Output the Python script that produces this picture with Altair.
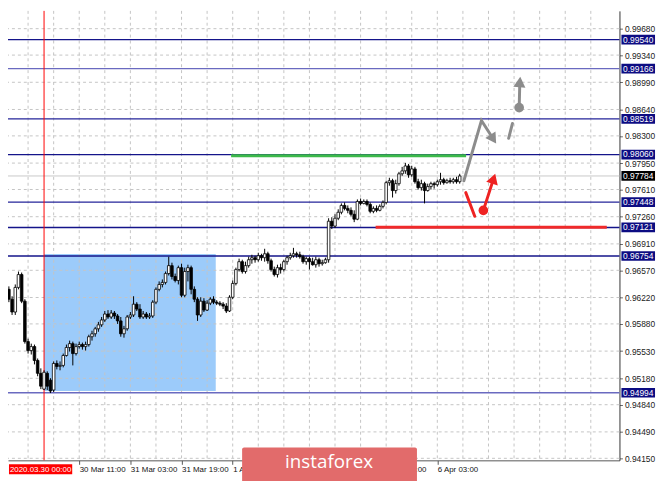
import altair as alt
import pandas as pd

# ---------------- data (H1 bars, bar 0 = 2020.03.30 00:00) ----------------
bars = list(range(-12, 131))
open_ = [0.96388, 0.96325, 0.96198, 0.96033, 0.96350, 0.96515, 0.96173, 0.95652, 0.95537, 0.95588, 0.95410, 0.95244,
         0.95041, 0.95244, 0.95156, 0.95029, 0.95371, 0.95333, 0.95346, 0.95473, 0.95576, 0.95626,
         0.95498, 0.95588, 0.95614, 0.95588, 0.95614, 0.95715, 0.95753, 0.95817, 0.95868, 0.95931,
         0.96007, 0.95969, 0.96020, 0.95982, 0.95919, 0.95753, 0.95817, 0.95969, 0.95995, 0.96134,
         0.96071, 0.95969, 0.96007, 0.95969, 0.95982, 0.96160, 0.96325, 0.96388, 0.96414, 0.96528,
         0.96630, 0.96490, 0.96439, 0.96604, 0.96249, 0.96554, 0.96604, 0.96325, 0.96198, 0.95995,
         0.96173, 0.96058, 0.96147, 0.96198, 0.96160, 0.96147, 0.96134, 0.96109, 0.96046, 0.96223,
         0.96401, 0.96579, 0.96681, 0.96554, 0.96630, 0.96706, 0.96732, 0.96706, 0.96758, 0.96732,
         0.96783, 0.96693, 0.96579, 0.96515, 0.96604, 0.96579, 0.96681, 0.96732, 0.96758, 0.96783,
         0.96770, 0.96745, 0.96681, 0.96720, 0.96681, 0.96642, 0.96706, 0.96655, 0.96668, 0.96706,
         0.97202, 0.97139, 0.97240, 0.97317, 0.97405, 0.97367, 0.97342, 0.97291, 0.97228, 0.97456,
         0.97431, 0.97456, 0.97418, 0.97329, 0.97367, 0.97342, 0.97393, 0.97444, 0.97698, 0.97723,
         0.97596, 0.97685, 0.97812, 0.97850, 0.97913, 0.97799, 0.97875, 0.97710, 0.97634, 0.97685,
         0.97596, 0.97647, 0.97685, 0.97672, 0.97710, 0.97736, 0.97698, 0.97723, 0.97710, 0.97736,
         0.97710]
close = [0.96325, 0.96198, 0.96033, 0.96350, 0.96515, 0.96173, 0.95652, 0.95537, 0.95588, 0.95410, 0.95244, 0.95079,
         0.95257, 0.95079, 0.95016, 0.95371, 0.95333, 0.95346, 0.95473, 0.95576, 0.95626, 0.95498,
         0.95588, 0.95614, 0.95588, 0.95614, 0.95715, 0.95753, 0.95817, 0.95868, 0.95931, 0.96007,
         0.95969, 0.96020, 0.95982, 0.95919, 0.95753, 0.95817, 0.95969, 0.95995, 0.96134, 0.96071,
         0.95969, 0.96007, 0.95969, 0.95982, 0.96160, 0.96325, 0.96388, 0.96414, 0.96528, 0.96630,
         0.96490, 0.96439, 0.96604, 0.96249, 0.96554, 0.96604, 0.96325, 0.96198, 0.95995, 0.96173,
         0.96058, 0.96147, 0.96198, 0.96160, 0.96147, 0.96134, 0.96109, 0.96046, 0.96223, 0.96401,
         0.96579, 0.96681, 0.96554, 0.96630, 0.96706, 0.96732, 0.96706, 0.96758, 0.96732, 0.96783,
         0.96693, 0.96579, 0.96515, 0.96604, 0.96579, 0.96681, 0.96732, 0.96758, 0.96783, 0.96770,
         0.96745, 0.96681, 0.96720, 0.96681, 0.96642, 0.96706, 0.96655, 0.96668, 0.96706, 0.97202,
         0.97139, 0.97240, 0.97317, 0.97405, 0.97367, 0.97342, 0.97291, 0.97228, 0.97456, 0.97431,
         0.97456, 0.97418, 0.97329, 0.97367, 0.97342, 0.97393, 0.97444, 0.97698, 0.97723, 0.97596,
         0.97685, 0.97812, 0.97850, 0.97913, 0.97799, 0.97875, 0.97710, 0.97634, 0.97685, 0.97596,
         0.97647, 0.97685, 0.97672, 0.97710, 0.97736, 0.97698, 0.97723, 0.97710, 0.97736, 0.97710,
         0.97784]
high = [0.96452, 0.96363, 0.96236, 0.96388, 0.96554, 0.96541, 0.96198, 0.95690, 0.95626, 0.95614, 0.95435, 0.95308,
        0.95283, 0.95270, 0.95181, 0.95397, 0.95410, 0.95397, 0.95498, 0.95614, 0.95665, 0.95652,
        0.95626, 0.95652, 0.95639, 0.95652, 0.95741, 0.95792, 0.95842, 0.95906, 0.95969, 0.96046,
        0.96058, 0.96058, 0.96046, 0.96007, 0.95969, 0.95855, 0.95995, 0.96033, 0.96236, 0.96160,
        0.96134, 0.96046, 0.96033, 0.96020, 0.96185, 0.96350, 0.96427, 0.96452, 0.96554, 0.96745,
        0.96668, 0.96528, 0.96630, 0.96655, 0.96604, 0.96642, 0.96630, 0.96363, 0.96223, 0.96223,
        0.96211, 0.96185, 0.96223, 0.96236, 0.96185, 0.96173, 0.96160, 0.96147, 0.96249, 0.96439,
        0.96604, 0.96720, 0.96706, 0.96681, 0.96745, 0.96770, 0.96758, 0.96796, 0.96783, 0.96847,
        0.96809, 0.96720, 0.96617, 0.96642, 0.96655, 0.96706, 0.96758, 0.96796, 0.96859, 0.96809,
        0.96809, 0.96770, 0.96745, 0.96745, 0.96732, 0.96745, 0.96732, 0.96706, 0.96732, 0.97240,
        0.97253, 0.97291, 0.97355, 0.97431, 0.97444, 0.97405, 0.97380, 0.97342, 0.97482, 0.97494,
        0.97482, 0.97482, 0.97444, 0.97393, 0.97405, 0.97418, 0.97469, 0.97723, 0.97761, 0.97748,
        0.97736, 0.97837, 0.97901, 0.97952, 0.97939, 0.97913, 0.97901, 0.97748, 0.97736, 0.97710,
        0.97685, 0.97710, 0.97710, 0.97736, 0.97825, 0.97761, 0.97748, 0.97761, 0.97761, 0.97774,
        0.97812]
low = [0.96261, 0.96160, 0.95995, 0.95995, 0.96325, 0.96147, 0.95626, 0.95498, 0.95486, 0.95359, 0.95206, 0.95041,
       0.95029, 0.95029, 0.94990, 0.95003, 0.95295, 0.95283, 0.95321, 0.95460, 0.95524, 0.95346,
       0.95473, 0.95562, 0.95549, 0.95537, 0.95588, 0.95665, 0.95715, 0.95779, 0.95842, 0.95906,
       0.95944, 0.95944, 0.95944, 0.95880, 0.95715, 0.95703, 0.95792, 0.95944, 0.95969, 0.96046,
       0.95944, 0.95944, 0.95944, 0.95944, 0.95957, 0.96134, 0.96300, 0.96350, 0.96388, 0.96503,
       0.96452, 0.96414, 0.96388, 0.96223, 0.96223, 0.96427, 0.96261, 0.96160, 0.95919, 0.95969,
       0.96033, 0.96046, 0.96122, 0.96134, 0.96122, 0.96109, 0.96071, 0.96020, 0.96033, 0.96198,
       0.96376, 0.96554, 0.96528, 0.96528, 0.96604, 0.96655, 0.96668, 0.96681, 0.96693, 0.96681,
       0.96655, 0.96554, 0.96490, 0.96477, 0.96528, 0.96554, 0.96642, 0.96706, 0.96732, 0.96732,
       0.96720, 0.96655, 0.96642, 0.96579, 0.96630, 0.96604, 0.96617, 0.96630, 0.96655, 0.96668,
       0.97101, 0.97113, 0.97215, 0.97291, 0.97342, 0.97304, 0.97266, 0.97190, 0.97215, 0.97405,
       0.97418, 0.97393, 0.97304, 0.97304, 0.97317, 0.97329, 0.97367, 0.97418, 0.97659, 0.97507,
       0.97558, 0.97659, 0.97786, 0.97812, 0.97761, 0.97774, 0.97685, 0.97609, 0.97596, 0.97431,
       0.97583, 0.97609, 0.97621, 0.97647, 0.97672, 0.97672, 0.97685, 0.97685, 0.97685, 0.97685,
       0.97685]

grid_prices = [0.99680, 0.99340, 0.98990, 0.98640, 0.98300, 0.97950, 0.97610, 0.97260, 0.96910,
               0.96570, 0.96220, 0.95880, 0.95530, 0.95180, 0.94840, 0.94490, 0.94150]
grid_bars = [-5, 3, 11, 19, 27, 35, 43, 51, 59, 67, 75, 83, 91, 99, 107, 115, 123, 131, 139,
             147, 155, 163, 171]
tick_bars = [11, 27, 43, 59, 75, 91, 107, 123]
tick_labels = ["30 Mar 11:00", "31 Mar 03:00", "31 Mar 19:00", "1 Apr 11:00", "2 Apr 03:00",
               "2 Apr 19:00", "3 Apr 11:00", "6 Apr 03:00"]
level_prices = [0.99540, 0.99166, 0.98519, 0.98060, 0.97448, 0.97121, 0.96754, 0.94994]
level_colors = ["#14148a", "#6a6ac0", "#24249a", "#14148a", "#24249a", "#14148a", "#14148a", "#6a6ac0"]
last_price = [0.97784]
cursor_bar = [0]
cursor_label = ["2020.03.30 00:00"]

zone_bars = [0, 53.7]
zone_prices = [0.95015, 0.96780]
green_bars = [58.5, 132.0]
green_price = [0.98045]
red_bars = [103.7, 176.0]
red_price = [0.97125]
gray_path_bars = [131.3, 136.8, 140.5]
gray_path_prices = [0.97722, 0.98498, 0.98259]
gray_dash_bars = [145.3, 146.5]
gray_dash_prices = [0.98269, 0.98460]
gray_up_bars = [148.6, 148.8]
gray_up_prices = [0.98663, 0.98994]
red_path_bars = [131.9, 134.7]
red_path_prices = [0.97570, 0.97265]
red_up_bars = [137.4, 140.6]
red_up_prices = [0.97341, 0.97750]
head_bars = [140.5, 148.8, 140.6]
head_prices = [0.98259, 0.98994, 0.97750]
head_angles = [147, 5, 18]
head_colors = ["#8c8c8c", "#8c8c8c", "#ee2222"]
dot_bars = [148.6, 137.4]
dot_prices = [0.98663, 0.97341]
dot_colors = ["#8c8c8c", "#ee2222"]
watermark = ["instaforex"]

# ---------------- scales / axes ----------------
FONT = "Liberation Sans"
xscale = alt.Scale(domain=[-9.73, 178.42], nice=False, zero=False)
yscale = alt.Scale(domain=[0.94124, 0.99909], nice=False, zero=False)
label_expr = ("[" + ",".join("'%s'" % s for s in tick_labels) + "][indexof(["
              + ",".join(str(v) for v in tick_bars) + "], datum.value)]")
xaxis = alt.Axis(values=tick_bars, labelExpr=label_expr, title=None, grid=False,
                 domainColor="#555555", tickColor="#555555", tickSize=4,
                 labelAlign="left", labelBaseline="top", labelPadding=1, labelFontSize=8,
                 labelColor="#111111", labelFont=FONT, labelOverlap=False, labelFlush=False)
yaxis = alt.Axis(values=grid_prices, orient="right", format=".5f", title=None, grid=False,
                 domainColor="#333333", tickColor="#666666", tickSize=3, labelPadding=2,
                 labelFontSize=8.5, labelColor="#222222", labelFont=FONT,
                 labelOverlap=False, labelFlush=False)


def X(f):
    return alt.X(f, type="quantitative", scale=xscale, axis=xaxis)


def Y(f):
    return alt.Y(f, type="quantitative", scale=yscale, axis=yaxis)


candles = pd.DataFrame({"bar": bars, "open": open_, "high": high, "low": low, "close": close})
zone_df = pd.DataFrame({"x1": [zone_bars[0]], "x2": [zone_bars[1]],
                        "p1": [zone_prices[0]], "p2": [zone_prices[1]]})
grid_h = pd.DataFrame({"p": grid_prices})
grid_v = pd.DataFrame({"bar": grid_bars})
levels = pd.DataFrame({"p": level_prices, "c": level_colors,
                       "label": ["%.5f" % v for v in level_prices]})
last_df = pd.DataFrame({"p": last_price, "label": ["%.5f" % v for v in last_price]})
cursor_df = pd.DataFrame({"bar": cursor_bar, "label": cursor_label})


def seg(bx, py):
    return pd.DataFrame({"bar": bx, "p": py, "i": list(range(len(bx)))})


layers = []
layers.append(alt.Chart(zone_df).mark_rect(color="#9ccbfa", opacity=1).encode(
    x=X("x1"), x2="x2", y=Y("p1"), y2="p2"))
layers.append(alt.Chart(grid_v).mark_rule(color="#c4c4c4", strokeDash=[3, 3], strokeWidth=1).encode(
    x=X("bar")))
layers.append(alt.Chart(grid_h).mark_rule(color="#c4c4c4", strokeDash=[3, 3], strokeWidth=1).encode(
    y=Y("p")))
layers.append(alt.Chart(last_df).mark_rule(color="#c8c8c8", strokeWidth=1).encode(y=Y("p")))
layers.append(alt.Chart(levels).mark_rule(strokeWidth=1.3).encode(
    y=Y("p"), color=alt.Color("c:N", scale=None)))
layers.append(alt.Chart(cursor_df).mark_rule(color="#ff0000", strokeWidth=1).encode(x=X("bar")))
layers.append(alt.Chart(candles).mark_rule(color="black", strokeWidth=1, clip=True).encode(
    x=X("bar"), y=Y("low"), y2="high"))
layers.append(alt.Chart(candles).mark_bar(size=2.6, stroke="black", strokeWidth=0.8, clip=True).encode(
    x=X("bar"), y=Y("open"), y2="close",
    fill=alt.condition("datum.close > datum.open", alt.value("white"), alt.value("black"))))
layers.append(alt.Chart(pd.DataFrame({"x1": [green_bars[0]], "x2": [green_bars[1]], "p": green_price}))
              .mark_rule(color="#3cb94a", strokeWidth=3).encode(x=X("x1"), x2="x2", y=Y("p")))
layers.append(alt.Chart(pd.DataFrame({"x1": [red_bars[0]], "x2": [red_bars[1]], "p": red_price}))
              .mark_rule(color="#f02a2a", strokeWidth=3).encode(x=X("x1"), x2="x2", y=Y("p")))
for bx, py, col in [(gray_path_bars, gray_path_prices, "#8c8c8c"),
                    (gray_dash_bars, gray_dash_prices, "#8c8c8c"),
                    (gray_up_bars, gray_up_prices, "#8c8c8c"),
                    (red_path_bars, red_path_prices, "#ee2222"),
                    (red_up_bars, red_up_prices, "#ee2222")]:
    layers.append(alt.Chart(seg(bx, py)).mark_line(color=col, strokeWidth=3, strokeCap="round").encode(
        x=X("bar"), y=Y("p"), order="i:Q"))
layers.append(alt.Chart(pd.DataFrame({"bar": head_bars, "p": head_prices, "a": head_angles, "c": head_colors}))
              .mark_point(shape="triangle-up", filled=True, size=150, opacity=1, strokeWidth=0).encode(
    x=X("bar"), y=Y("p"), angle=alt.Angle("a:Q", scale=None), fill=alt.Color("c:N", scale=None)))
layers.append(alt.Chart(pd.DataFrame({"bar": dot_bars, "p": dot_prices, "c": dot_colors}))
              .mark_circle(size=95, opacity=1).encode(
    x=X("bar"), y=Y("p"), color=alt.Color("c:N", scale=None)))

BOX = "M-1,-0.29H1V0.29H-1Z"
layers.append(alt.Chart(levels).mark_point(shape=BOX, size=34 * 34, filled=True, opacity=1,
                                           fill="#0c0c82", strokeWidth=0, clip=False).encode(
    x=alt.value(638), y=Y("p")))
layers.append(alt.Chart(levels).mark_text(color="white", fontSize=8.5, font=FONT, align="center",
                                          baseline="middle", clip=False).encode(
    x=alt.value(638), y=Y("p"), text="label:N"))
layers.append(alt.Chart(last_df).mark_point(shape=BOX, size=34 * 34, filled=True, opacity=1,
                                            fill="#000000", strokeWidth=0, clip=False).encode(
    x=alt.value(638), y=Y("p")))
layers.append(alt.Chart(last_df).mark_text(color="white", fontSize=8.5, font=FONT, align="center",
                                           baseline="middle", clip=False).encode(
    x=alt.value(638), y=Y("p"), text="label:N"))

layers.append(alt.Chart(cursor_df).mark_point(shape="M-1,-0.16H1V0.16H-1Z", size=64 * 64, filled=True,
                                              opacity=1, fill="#ff0000", strokeWidth=0, clip=False).encode(
    x=alt.value(33), y=alt.value(464)))
layers.append(alt.Chart(cursor_df).mark_text(color="white", fontSize=8, font=FONT, align="center",
                                             baseline="middle", clip=False).encode(
    x=alt.value(33), y=alt.value(464.5), text="label:N"))

wm = pd.DataFrame({"t": watermark})
layers.append(alt.Chart(wm).mark_rect(color="#e26b6b", cornerRadius=2, clip=False).encode(
    x=alt.value(237), x2=alt.value(414), y=alt.value(442), y2=alt.value(480)))
layers.append(alt.Chart(wm).mark_text(color="white", fontSize=19, font="Open Sans", align="center",
                                      baseline="middle", clip=False).encode(
    x=alt.value(325), y=alt.value(457), text="t:N"))

chart = alt.layer(*layers).properties(
    width=619, height=455,
    padding={"left": 0, "top": 0, "right": 38, "bottom": 18},
    autosize=alt.AutoSizeParams(type="none"),
    background="white",
).configure_view(stroke=None)

chart.save("out.html", embed_options={"renderer": "svg", "actions": False})
